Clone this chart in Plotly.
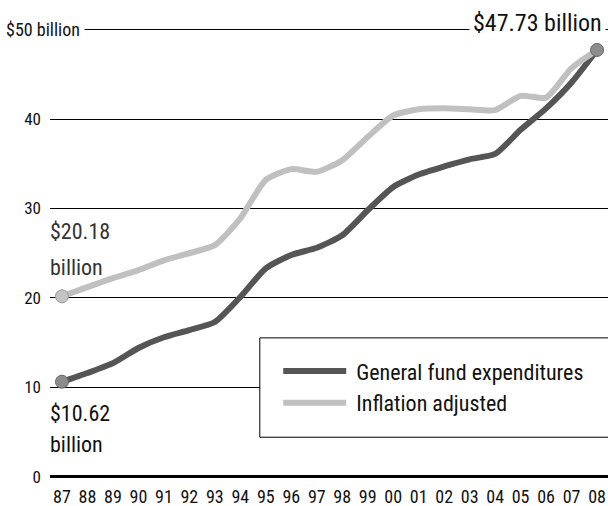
import plotly.graph_objects as go

years = list(range(1987, 2009))
year_labels = ["87", "88", "89", "90", "91", "92", "93", "94", "95", "96", "97",
               "98", "99", "00", "01", "02", "03", "04", "05", "06", "07", "08"]
general_fund = [10.62, 11.6, 12.7, 14.4, 15.6, 16.4, 17.3, 20.1, 23.3, 24.8, 25.6,
                27.0, 29.8, 32.4, 33.8, 34.7, 35.5, 36.1, 38.8, 41.2, 44.1, 47.73]
inflation_adj = [20.18, 21.2, 22.2, 23.1, 24.2, 25.0, 25.9, 28.9, 33.2, 34.4, 34.1,
                 35.4, 38.0, 40.4, 41.1, 41.2, 41.1, 41.0, 42.6, 42.4, 45.7, 47.73]
y_ticks = [0, 10, 20, 30, 40, 50]
y_ticktext = ["0", "10", "20", "30", "40", ""]

FONT = "Liberation Sans Narrow, Roboto Condensed, Arial Narrow, Roboto, sans-serif"
DARK = "#555555"
LIGHT = "#c0c0c0"

fig = go.Figure()
fig.add_trace(go.Scatter(x=years, y=general_fund, mode="lines",
                         line=dict(color=DARK, width=6, shape="spline", smoothing=0.6),
                         name="\u00a0General fund expenditures"))
fig.add_trace(go.Scatter(x=years, y=inflation_adj, mode="lines",
                         line=dict(color=LIGHT, width=6, shape="spline", smoothing=0.6),
                         name="\u00a0Inflation adjusted"))
# endpoint dots
fig.add_trace(go.Scatter(x=[years[0], years[-1]], y=[general_fund[0], general_fund[-1]],
                         mode="markers", showlegend=False,
                         marker=dict(size=13, color="#8c8c8c", line=dict(color="#666", width=1))))
fig.add_trace(go.Scatter(x=[years[0]], y=[inflation_adj[0]], mode="markers", showlegend=False,
                         marker=dict(size=13, color="#c4c4c4", line=dict(color="#999", width=1))))

annotations = [
    dict(text="$50 billion", x=-0.088, xref="paper", y=50, yref="y", xanchor="left",
         yanchor="middle", showarrow=False, bgcolor="white", borderpad=4,
         font=dict(size=18, color="#111")),
    dict(text="$47.73 billion", x=0.996, xref="paper", y=50.7, yref="y", xanchor="right",
         yanchor="middle", showarrow=False, bgcolor="white", borderpad=3,
         font=dict(size=24, color="#111")),
    dict(text="$20.18", x=-0.004, xref="paper", y=27.4, yref="y", xanchor="left",
         yanchor="middle", showarrow=False, font=dict(size=22, color="#333")),
    dict(text="billion", x=-0.004, xref="paper", y=23.4, yref="y", xanchor="left",
         yanchor="middle", showarrow=False, font=dict(size=22, color="#333")),
    dict(text="$10.62", x=-0.004, xref="paper", y=7.1, yref="y", xanchor="left",
         yanchor="middle", showarrow=False, font=dict(size=22, color="#111")),
    dict(text="billion", x=-0.004, xref="paper", y=3.6, yref="y", xanchor="left",
         yanchor="middle", showarrow=False, font=dict(size=22, color="#111")),
]

shapes = [
    # legend frame (runs off the right edge as in the original)
    dict(type="rect", xref="paper", yref="paper", x0=0.376, x1=1.1, y0=0.093, y1=0.309,
         line=dict(color="black", width=1), fillcolor="white", layer="above"),
    # gap in the 10 and 20 rules next to the start dots
    dict(type="rect", xref="paper", yref="y", x0=0.0, x1=0.048, y0=8, y1=22,
         line=dict(width=0), fillcolor="white", layer="between"),
]

fig.update_layout(
    width=608, height=506,
    margin=dict(l=50, r=0, t=20, b=26),
    paper_bgcolor="white", plot_bgcolor="white",
    font=dict(family=FONT, color="#111"),
    annotations=annotations,
    shapes=shapes,
    showlegend=True,
    legend=dict(x=0.409, y=0.282, xanchor="left", yanchor="top",
                bgcolor="rgba(0,0,0,0)", borderwidth=0,
                font=dict(size=22, color="#111"), itemwidth=63, tracegroupgap=0),
    xaxis=dict(range=[1986.53, 2008.43], tickmode="array", tickvals=years,
               ticktext=year_labels, showgrid=False, zeroline=False, showline=False,
               ticks="", tickfont=dict(size=18, color="#111"), ticklabelstandoff=4,
               fixedrange=True),
    yaxis=dict(range=[-0.37, 51.08], tickmode="array", tickvals=y_ticks,
               ticktext=y_ticktext, showgrid=True, gridcolor="black", gridwidth=1,
               zeroline=True, zerolinecolor="black", zerolinewidth=2.5,
               showline=False, ticks="", tickfont=dict(size=17, color="#111"),
               ticklabelstandoff=8, fixedrange=True),
)

fig.write_html("out.html", config={"displayModeBar": False},
               post_script="document.body.style.margin='0';")
